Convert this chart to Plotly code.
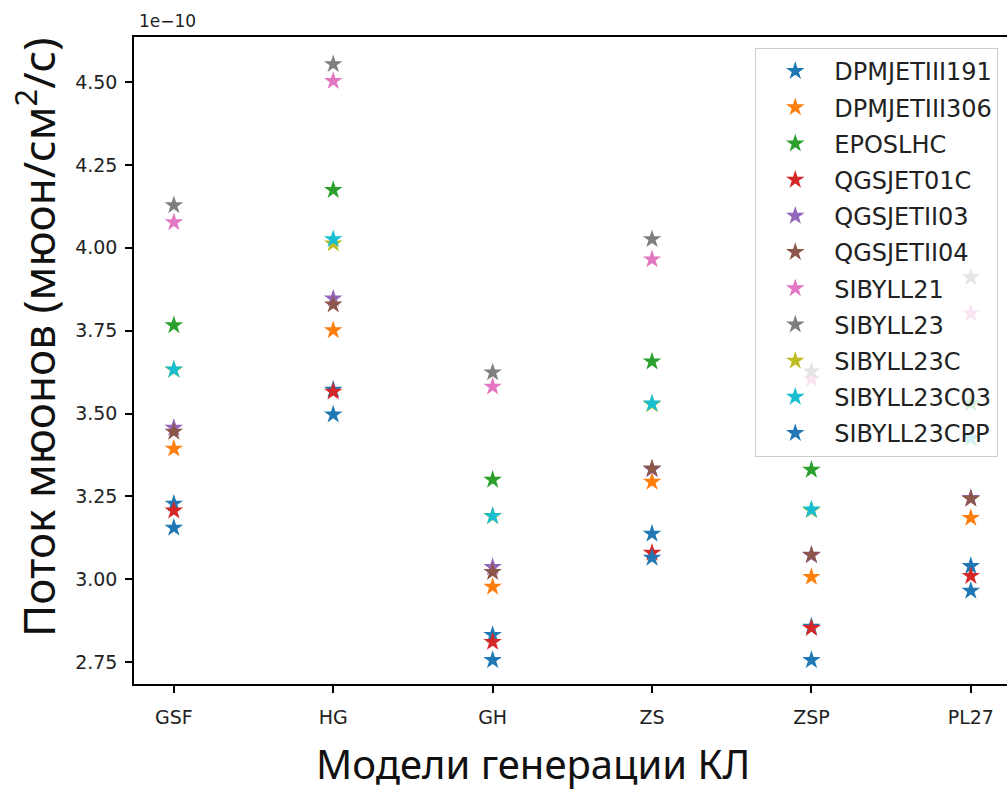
import plotly.graph_objects as go

# Cosmic-ray generation models on the x axis
models = ["GSF", "HG", "GH", "ZS", "ZSP", "PL27"]

# Muon flux per hadronic interaction model, in units of 1e-10 muon/cm^2/s
dpmjet191 = [3.228, 3.572, 2.832, 3.137, 2.857, 3.040]
dpmjet306 = [3.394, 3.751, 2.977, 3.294, 3.007, 3.185]
eposlhc = [3.766, 4.174, 3.300, 3.657, 3.330, 3.530]
qgsjet01c = [3.207, 3.566, 2.811, 3.080, 2.853, 3.010]
qgsjetii03 = [3.457, 3.847, 3.037, 3.332, 3.072, 3.245]
qgsjetii04 = [3.445, 3.829, 3.022, 3.334, 3.074, 3.243]
sibyll21 = [4.077, 4.503, 3.581, 3.965, 3.605, 3.802]
sibyll23 = [4.128, 4.554, 3.624, 4.026, 3.627, 3.911]
sibyll23c = [3.632, 4.013, 3.190, 3.528, 3.208, 3.425]
sibyll23c03 = [3.633, 4.026, 3.191, 3.530, 3.210, 3.427]
sibyll23cpp = [3.155, 3.497, 2.756, 3.065, 2.756, 2.965]

series_names = ["DPMJETIII191", "DPMJETIII306", "EPOSLHC", "QGSJET01C", "QGSJETII03",
                "QGSJETII04", "SIBYLL21", "SIBYLL23", "SIBYLL23C", "SIBYLL23C03",
                "SIBYLL23CPP"]
series_values = [dpmjet191, dpmjet306, eposlhc, qgsjet01c, qgsjetii03, qgsjetii04,
                 sibyll21, sibyll23, sibyll23c, sibyll23c03, sibyll23cpp]

palette = ["#1f77b4", "#ff7f0e", "#2ca02c", "#d62728", "#9467bd", "#8c564b",
           "#e377c2", "#7f7f7f", "#bcbd22", "#17becf"]

fig = go.Figure()
for i, (name, vals) in enumerate(zip(series_names, series_values)):
    fig.add_trace(go.Scatter(
        x=models, y=vals, mode="markers", name=name, legendgroup=name,
        marker=dict(symbol="star", size=14, color=palette[i % len(palette)],
                    line=dict(width=0)),
    ))

tick_font = dict(family="DejaVu Sans", size=19, color="#222222")

fig.update_layout(
    width=1007, height=809,
    margin=dict(l=134, r=0, t=37, b=125),
    paper_bgcolor="white", plot_bgcolor="white",
    showlegend=True,
    legend=dict(
        x=0.990, y=0.983, xanchor="right", yanchor="top",
        bgcolor="rgba(255,255,255,0.8)", bordercolor="#cccccc", borderwidth=1,
        font=dict(family="DejaVu Sans", size=24, color="#222222"),
        tracegroupgap=2, itemwidth=68,
    ),
    xaxis=dict(
        type="category", range=[-0.25, 5.227],
        showline=True, mirror=True, linecolor="black", linewidth=1.5,
        ticks="outside", ticklen=7, tickwidth=1.5, tickcolor="black",
        tickfont=tick_font, ticklabelstandoff=8, showgrid=False, zeroline=False,
    ),
    yaxis=dict(
        range=[2.684, 4.636], tick0=2.75, dtick=0.25, tickformat=".2f",
        showline=True, mirror=False, linecolor="black", linewidth=1.5,
        ticks="outside", ticklen=7, tickwidth=1.5, tickcolor="black",
        tickfont=tick_font, ticklabelstandoff=4, showgrid=False, zeroline=False,
    ),
    annotations=[
        dict(text="1e\u221210", xref="paper", yref="paper", x=0.003, y=1.0,
             xanchor="left", yanchor="bottom", yshift=4, showarrow=False,
             font=dict(family="DejaVu Sans", size=17, color="#222222")),
        dict(text="Модели генерации КЛ", xref="paper", yref="paper",
             x=(533 - 134) / 873, y=(684 - 763) / 647, xanchor="center", yanchor="middle",
             showarrow=False, font=dict(family="Noto Sans", size=40, color="#111111")),
        dict(text="Поток мюонов (мюон/см<sup>2</sup>/с)", xref="paper", yref="paper",
             x=(36 - 134) / 873, y=(684 - 338) / 647, xanchor="center", yanchor="middle",
             textangle=-90, showarrow=False,
             font=dict(family="Noto Sans", size=44, color="#111111")),
    ],
)

fig.write_html("out.html")
